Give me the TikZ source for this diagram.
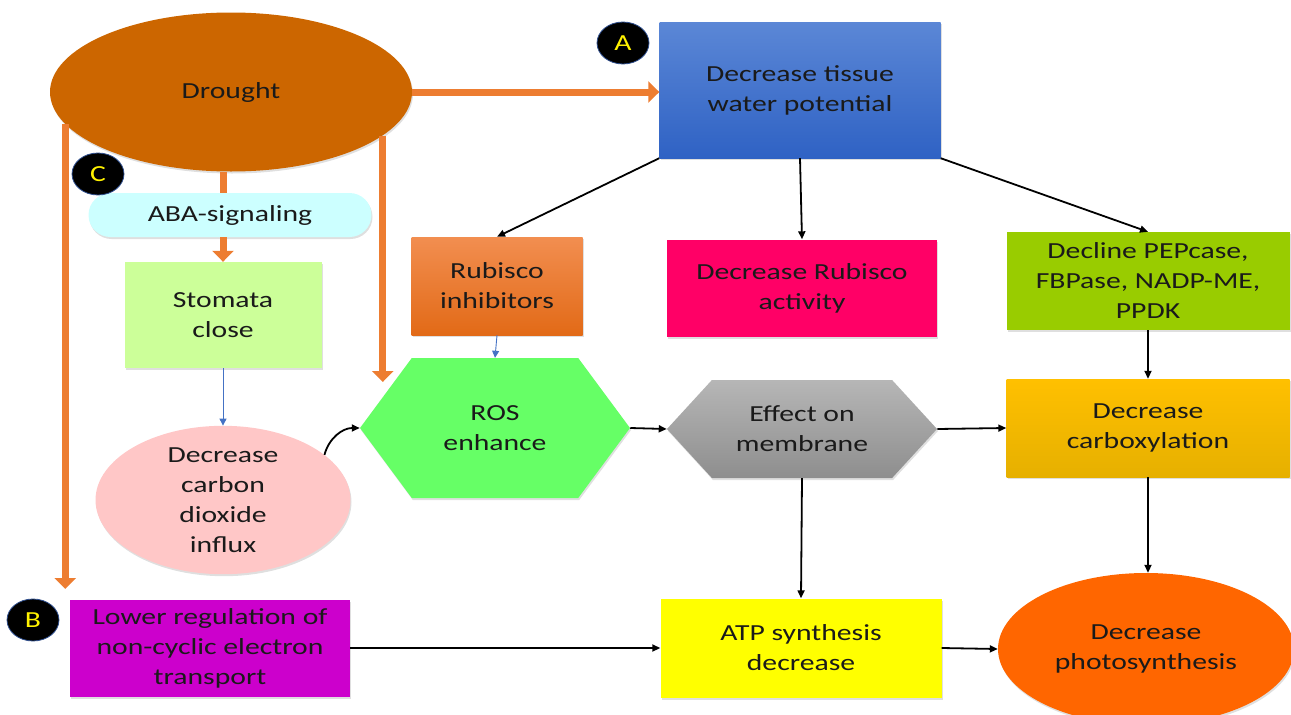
\documentclass[tikz,border=0pt]{standalone}
\usepackage{fontspec}
\setmainfont{Carlito}[FakeStretch=1.29]
\usetikzlibrary{shapes.geometric,shapes.symbols,arrows.meta,shadows}

\definecolor{txtc}{HTML}{1A1A1A}
\definecolor{droughtc}{HTML}{CC6600}
\definecolor{arrorange}{HTML}{ED7D31}
\definecolor{arrblue}{HTML}{4472C4}
\definecolor{tagblue}{HTML}{2F4F8F}
\definecolor{tissuetop}{HTML}{5B87D6}
\definecolor{tissuebot}{HTML}{2F62C4}
\definecolor{abac}{HTML}{CCFFFF}
\definecolor{stomac}{HTML}{CCFF99}
\definecolor{co2c}{HTML}{FFC7C7}
\definecolor{inhtop}{HTML}{F28E50}
\definecolor{inhbot}{HTML}{E26A17}
\definecolor{actc}{HTML}{FF0066}
\definecolor{pepc}{HTML}{99CC00}
\definecolor{rosc}{HTML}{66FF66}
\definecolor{memtop}{HTML}{B6B6B6}
\definecolor{membot}{HTML}{8E8E8E}
\definecolor{carbtop}{HTML}{FFC000}
\definecolor{carbbot}{HTML}{E6B000}
\definecolor{lowc}{HTML}{CC00CC}
\definecolor{atpc}{HTML}{FFFF00}
\definecolor{photoc}{HTML}{FF6600}

\tikzset{
  shade/.style={drop shadow={opacity=0.25,shadow xshift=1pt,shadow yshift=-2pt}},
  box/.style={rectangle, minimum width=#1, minimum height=98, shade},
  box/.default=283,
  hexbox/.style={signal, signal to=east and west, minimum width=270, shade},
  tag/.style={ellipse, fill=black, draw=tagblue, line width=0.8pt,
    minimum width=52, minimum height=42, text=yellow},
  blackarr/.style={line width=1.8pt, -{Triangle[length=8pt,width=7pt]}},
  bluearr/.style={line width=0.9pt, draw=arrblue, -{Triangle[length=7pt,width=7pt]}},
  orangearr/.style={line width=7pt, draw=arrorange, -{Triangle[length=11pt,width=21pt]}},
}

\begin{document}
\begin{tikzpicture}[x=1pt,y=-1pt,
  font=\fontsize{23}{30}\selectfont,
  every node/.style={align=center, text=txtc, inner sep=0pt}]
  \useasboundingbox (0,0) rectangle (1291,715);
  \clip (0,0) rectangle (1291,715);

  \node[ellipse, fill=droughtc, minimum width=362, minimum height=159, shade] (drought) at (231,92) {Drought};
  \node[box=281, minimum height=136, top color=tissuetop, bottom color=tissuebot] (tissue) at (800,90) {Decrease tissue\\water potential};

  \node[rectangle, rounded corners=22, fill=abac, minimum width=283, minimum height=44, shade] (aba) at (230,215) {ABA-signaling};
  \node[box=197, minimum height=106, fill=stomac] (stomata) at (223,315) {Stomata\\close};
  \node[ellipse, fill=co2c, minimum width=255, minimum height=115, shade] (co2) at (223,500) {Decrease\\carbon\\dioxide\\influx};

  \node[box=171, top color=inhtop, bottom color=inhbot] (rubinh) at (497,286) {Rubisco\\inhibitors};
  \node[box=270, minimum height=97, fill=actc] (rubact) at (802,288) {Decrease Rubisco\\activity};
  \node[box, fill=pepc] (pep) at (1148,281) {Decline PEPcase,\\FBPase, NADP-ME,\\PPDK};

  \node[hexbox, minimum height=140, signal pointer angle=107, fill=rosc] (ros) at (495,428) {ROS\\enhance};
  \node[hexbox, minimum height=98, signal pointer angle=95, top color=memtop, bottom color=membot] (membrane) at (802,429) {Effect on\\membrane};
  \node[box, top color=carbtop, bottom color=carbbot] (carbox) at (1148,428) {Decrease\\carboxylation};

  \node[box=280, minimum height=97, fill=lowc] (lowreg) at (210,648) {Lower regulation of\\non-cyclic electron\\transport};
  \node[box=281, minimum height=99, fill=atpc] (atp) at (801,648) {ATP synthesis\\decrease};
  \node[ellipse, fill=photoc, minimum width=296, minimum height=152, shade] (photo) at (1146,649) {Decrease\\photosynthesis};

  \node[tag] (taga) at (623,43) {A};
  \node[tag] (tagc) at (98,174) {C};
  \node[tag] (tagb) at (33,620) {B};

  \coordinate (ltip) at (65,589);
  \coordinate (rtip) at (383,382);

  \draw[orangearr] (drought.east) -- (drought.east -| tissue.west);
  \draw[orangearr] (drought.191) -- (drought.191 |- ltip);
  \draw[orangearr] (drought.344) -- (drought.344 |- rtip);
  \draw[line width=7pt, draw=arrorange] (drought.south -| stomata) -- (aba.north -| stomata);
  \draw[orangearr] (aba.south -| stomata) -- (stomata.north);

  \draw[bluearr] (stomata.south) -- (co2.north);
  \draw[bluearr] (rubinh.south) -- (ros.north);
  \draw[blackarr] (co2.24) to[out=75, in=180] (ros.west);

  \draw[blackarr] (tissue.south west) -- (rubinh.north);
  \draw[blackarr] (tissue.south) -- (rubact.north);
  \draw[blackarr] (tissue.south east) -- (pep.north);
  \draw[blackarr] (pep.south) -- (carbox.north);
  \draw[blackarr] (ros.east) -- (membrane.west);
  \draw[blackarr] (membrane.east) -- (carbox.west);
  \draw[blackarr] (membrane.south) -- (atp.north);
  \draw[blackarr] (carbox.south) -- (carbox.south |- photo.north);
  \draw[blackarr] (lowreg.east) -- (atp.west);
  \draw[blackarr] (atp.east) -- (photo.west);
\end{tikzpicture}
\end{document}
